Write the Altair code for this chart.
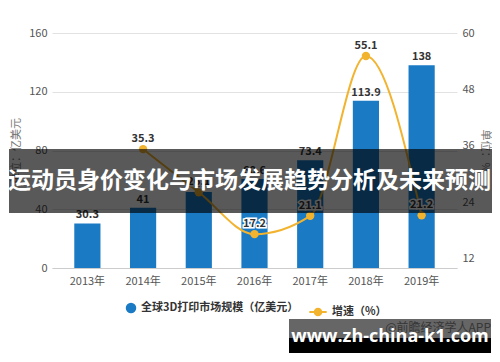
import altair as alt
import pandas as pd

years = ["2013年", "2014年", "2015年", "2016年", "2017年", "2018年", "2019年"]
market = [30.3, 41, 51.7, 60.6, 73.4, 113.9, 138]
growth_years = ["2014年", "2015年", "2016年", "2017年", "2018年", "2019年"]
growth = [35.3, 26.1, 17.2, 21.1, 55.1, 21.2]

bar_name = "全球3D打印市场规模（亿美元）"
line_name = "增速（%）"
banner_title = "运动员身价变化与市场发展趋势分析及未来预测"
site = "www.zh-china-k1.com"
credit = "@前瞻经济学人APP"

BLUE = "#1a7ac4"
ORANGE = "#f2b32f"
FONT = "Noto Sans CJK SC"

bars_df = pd.DataFrame({"year": years, "value": market, "s": [bar_name] * len(years)})
line_df = pd.DataFrame({"year": growth_years, "value": growth, "s": [line_name] * len(growth_years)})

xenc = alt.X("year:N", sort=years,
             scale=alt.Scale(paddingInner=0.53, paddingOuter=0.4),
             axis=alt.Axis(title=None, labelAngle=0, ticks=False, tickSize=0,
                           domainColor="#cccccc", labelColor="#555555",
                           labelFontSize=11, labelPadding=7, labelFont=FONT))

yleft = alt.Y("value:Q", scale=alt.Scale(domain=[0, 160]),
              axis=alt.Axis(values=[0, 40, 80, 120, 160], title="单位：亿美元",
                            domain=False, ticks=False, tickSize=0, grid=True,
                            gridColor="#e2e2e2", labelColor="#555555",
                            labelFontSize=11, labelPadding=5, labelFont=FONT,
                            titleColor="#777777", titleFontSize=11,
                            titleFontWeight="normal", titleFont=FONT,
                            titlePadding=7))

yright = alt.Y("value:Q", scale=alt.Scale(domain=[12, 60]),
               axis=alt.Axis(values=[12, 24, 36, 48, 60], title="单位：%",
                             orient="right", domain=False, ticks=False,
                             tickSize=0, grid=False, labelColor="#555555",
                             labelFontSize=11, labelPadding=5, labelFont=FONT,
                             titleColor="#777777", titleFontSize=11,
                             titleFontWeight="normal", titleFont=FONT,
                             titlePadding=5))

bars = alt.Chart(bars_df).mark_bar().encode(
    x=xenc, y=yleft,
    fill=alt.Fill("s:N", scale=alt.Scale(domain=[bar_name], range=[BLUE]),
                  legend=alt.Legend(title=None, orient="none", legendX=73, legendY=269,
                                    symbolType="circle", symbolSize=110,
                                    labelFontSize=11, labelColor="#333333",
                                    labelFont=FONT, labelFontWeight="bold")),
)
bar_labels = alt.Chart(bars_df).mark_text(dy=-8, fontSize=11, color="#333333",
                                         font=FONT, fontWeight="bold").encode(
    x=alt.X("year:N", sort=years), y="value:Q", text=alt.Text("value:Q"))

left = alt.layer(bars, bar_labels)

path_sym = "M-1,0L1,0M-0.38,0A0.38,0.38,0,1,1,0.38,0A0.38,0.38,0,1,1,-0.38,0Z"
line = alt.Chart(line_df).mark_line(strokeWidth=2, interpolate="monotone").encode(
    x=alt.X("year:N", sort=years), y=yright,
    stroke=alt.Stroke("s:N", scale=alt.Scale(domain=[line_name], range=[ORANGE]),
                      legend=alt.Legend(title=None, orient="none", legendX=256, legendY=269,
                                        symbolType=path_sym, symbolSize=300,
                                        symbolStrokeWidth=2, symbolFillColor=ORANGE,
                                        labelFontSize=11, labelColor="#333333",
                                        labelFont=FONT, labelFontWeight="bold")),
)
points = alt.Chart(line_df).mark_circle(size=70, color=ORANGE, opacity=1).encode(
    x=alt.X("year:N", sort=years), y="value:Q")
halo = alt.Chart(line_df).mark_text(dy=-10, fontSize=11, color="white", stroke="white",
                                    strokeWidth=3, font=FONT, fontWeight="bold").encode(
    x=alt.X("year:N", sort=years), y="value:Q", text=alt.Text("value:Q"))
line_labels = alt.Chart(line_df).mark_text(dy=-10, fontSize=11, color="#333333",
                                           font=FONT, fontWeight="bold").encode(
    x=alt.X("year:N", sort=years), y="value:Q", text=alt.Text("value:Q"))

right = alt.layer(line, points, halo, line_labels)

one = pd.DataFrame({"t": [banner_title]})
banner = alt.Chart(one).mark_rect(color="black", opacity=0.65).encode(
    x=alt.value(-43), x2=alt.value(440), y=alt.value(116), y2=alt.value(180))
banner_text = alt.Chart(one).mark_text(align="left", baseline="middle", fontSize=23,
                                       fontWeight="bold", color="white", font=FONT).encode(
    x=alt.value(-44), y=alt.value(148), text="t:N")

site_df = pd.DataFrame({"t": [site], "c": [credit]})
credit_text = alt.Chart(site_df).mark_text(align="right", baseline="middle", fontSize=12,
                                           color="#8a8a8a", font=FONT).encode(
    x=alt.value(439), y=alt.value(295), text="c:N")
gray_box = alt.Chart(site_df).mark_rect(color="black", opacity=0.6).encode(
    x=alt.value(237), x2=alt.value(439), y=alt.value(286), y2=alt.value(305))
black_box = alt.Chart(site_df).mark_rect(color="black", opacity=1).encode(
    x=alt.value(237), x2=alt.value(439), y=alt.value(305), y2=alt.value(320))
site_text = alt.Chart(site_df).mark_text(align="center", baseline="middle", fontSize=18,
                                         fontWeight="bold", color="white",
                                         font="Open Sans").encode(
    x=alt.value(338), y=alt.value(304), text="t:N")

chart = alt.layer(left, right, banner, banner_text, credit_text, gray_box, black_box,
                  site_text).resolve_scale(y="independent").properties(
    width=405, height=235,
    autosize=alt.AutoSizeParams(type="none"),
    padding={"left": 44, "top": 25, "right": 35, "bottom": 86},
).configure_view(stroke=None)

chart.save("out.html", embed_options={"renderer": "svg", "actions": False})
